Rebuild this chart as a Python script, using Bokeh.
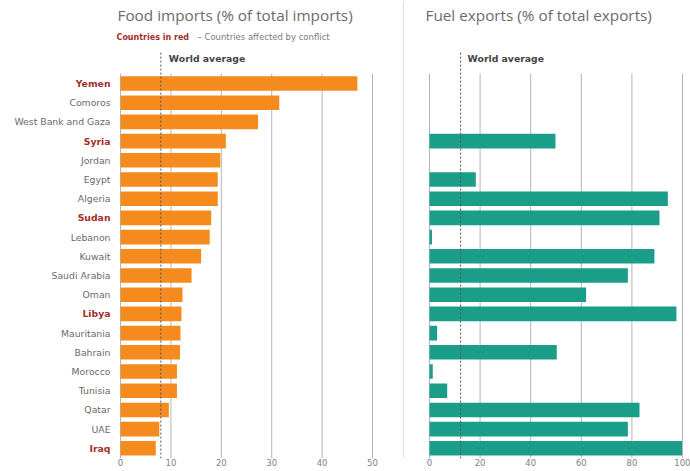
import math
from bokeh.plotting import figure
from bokeh.layouts import row
from bokeh.models import ColumnDataSource, Range1d, FixedTicker, Span
from bokeh.embed import file_html
from bokeh.resources import INLINE
from bokeh.core.properties import value

# ---------------- data ----------------
countries = ["Yemen", "Comoros", "West Bank and Gaza", "Syria", "Jordan", "Egypt",
             "Algeria", "Sudan", "Lebanon", "Kuwait", "Saudi Arabia", "Oman", "Libya",
             "Mauritania", "Bahrain", "Morocco", "Tunisia", "Qatar", "UAE", "Iraq"]
conflict_countries = ["Yemen", "Syria", "Sudan", "Libya", "Iraq"]
food_imports = [47.0, 31.5, 27.3, 20.9, 19.8, 19.3, 19.3, 18.0, 17.7, 16.0,
                14.1, 12.3, 12.1, 11.9, 11.8, 11.2, 11.2, 9.6, 7.7, 7.0]
nan = float("nan")
fuel_exports = [nan, nan, nan, 49.8, nan, 18.3, 94.2, 90.9, 1.0, 88.9,
                78.4, 61.9, 97.6, 3.0, 50.3, 1.3, 7.0, 83.0, 78.4, 99.8]
food_world_average = 8.0
fuel_world_average = 12.3
food_ticks = [0, 10, 20, 30, 40, 50]
fuel_ticks = [0, 20, 40, 60, 80, 100]
food_title = "Food imports (% of total imports)"
fuel_title = "Fuel exports (% of total exports)"
legend_red = "Countries in red"
legend_rest = "\u2013 Countries affected by conflict"
avg_label = "World average"

# ---------------- styling / layout ----------------
TITLE_FONT = "Open Sans"
FONT = "DejaVu Sans"
ORANGE = "#F58B1F"
TEAL = "#1A9E89"
RED = "#A3302A"
GRAY_TXT = "#6a6a6a"
GRID = "#b5b5b5"
H = 471
W1, W2 = 402, 288
Y_BOTTOM, Y_TOP = 19.53, -4.323
BAR_H = 0.76
TITLE_Y, SUB_Y, WA_LABEL_Y, WA_TOP, GRID_TOP = -3.59, -2.40, -1.30, -1.61, -0.52

rows = list(range(len(countries)))
label_colors = [RED if c in conflict_countries else GRAY_TXT for c in countries]
label_styles = ["bold" if c in conflict_countries else "normal" for c in countries]

src = ColumnDataSource(dict(y=rows, country=countries, food=food_imports,
                            fuel=fuel_exports, color=label_colors, style=label_styles))


def base_fig(width, xr, ticks):
    p = figure(width=width, height=H, x_range=Range1d(*xr),
               y_range=Range1d(Y_BOTTOM, Y_TOP), output_backend="svg",
               toolbar_location=None, y_axis_location=None,
               min_border_left=0, min_border_right=0, min_border_top=0,
               min_border_bottom=13)
    p.outline_line_color = None
    p.xgrid.visible = False
    p.ygrid.visible = False
    p.background_fill_color = "white"
    p.border_fill_color = "white"
    ax = p.xaxis[0]
    ax.ticker = FixedTicker(ticks=ticks)
    ax.axis_line_color = None
    ax.major_tick_line_color = None
    ax.minor_tick_line_color = None
    ax.major_tick_out = 0
    ax.major_tick_in = 0
    ax.minor_tick_out = 0
    ax.minor_tick_in = 0
    ax.major_label_text_font = FONT
    ax.major_label_text_font_size = "8.5px"
    ax.major_label_text_color = "#808080"
    ax.major_label_standoff = 0
    # vertical grid lines
    p.segment(x0=ticks, y0=GRID_TOP, x1=ticks, y1=Y_BOTTOM, line_color=GRID, line_width=1)
    return p


# ---------------- left panel ----------------
p1 = base_fig(W1, (-23.81, 55.95), food_ticks)
p1.hbar(y="y", right="food", left=0, height=BAR_H, source=src,
        fill_color=ORANGE, line_color=None)
p1.segment(x0=[food_world_average], y0=WA_TOP, x1=[food_world_average], y1=Y_BOTTOM,
           line_color="#555555", line_dash="2 2", line_width=1)
p1.text(x=0, y="y", text="country", source=src, x_offset=-10,
        text_align="right", text_baseline="middle", text_color="color",
        text_font_style="style", text_font=value(FONT), text_font_size="9.3px")
p1.text(x=[0], y=[TITLE_Y], text=[food_title], x_offset=-3, text_align="left",
        text_baseline="middle", text_color="#6b6b6b", text_font=value(TITLE_FONT),
        text_font_size="15.3px")
p1.text(x=[0], y=[SUB_Y], text=[legend_red], x_offset=-4, text_align="left",
        text_baseline="middle", text_color=RED, text_font_style="bold",
        text_font=value(FONT), text_font_size="8px")
p1.text(x=[0], y=[SUB_Y], text=[legend_rest], x_offset=77, text_align="left",
        text_baseline="middle", text_color="#7a7a7a",
        text_font=value(FONT), text_font_size="8.5px")
p1.text(x=[food_world_average], y=[WA_LABEL_Y], text=[avg_label], x_offset=8,
        text_align="left", text_baseline="middle", text_color="#444444",
        text_font_style="bold", text_font=value(FONT), text_font_size="9.3px")

# ---------------- right panel ----------------
p2 = base_fig(W2, (-10.67, 103.16), fuel_ticks)
p2.add_layout(Span(location=-10.4, dimension="height", line_color="#d5d5d5", line_width=1))
p2.hbar(y="y", right="fuel", left=0, height=BAR_H, source=src,
        fill_color=TEAL, line_color=None)
p2.segment(x0=[fuel_world_average], y0=WA_TOP, x1=[fuel_world_average], y1=Y_BOTTOM,
           line_color="#555555", line_dash="2 2", line_width=1)
p2.text(x=[0], y=[TITLE_Y], text=[fuel_title], x_offset=-4, text_align="left",
        text_baseline="middle", text_color="#6b6b6b", text_font=value(TITLE_FONT),
        text_font_size="15.3px")
p2.text(x=[fuel_world_average], y=[WA_LABEL_Y], text=[avg_label], x_offset=7,
        text_align="left", text_baseline="middle", text_color="#444444",
        text_font_style="bold", text_font=value(FONT), text_font_size="9.3px")

layout = row(p1, p2, spacing=0)
open("out.html", "w").write(file_html(layout, INLINE))
